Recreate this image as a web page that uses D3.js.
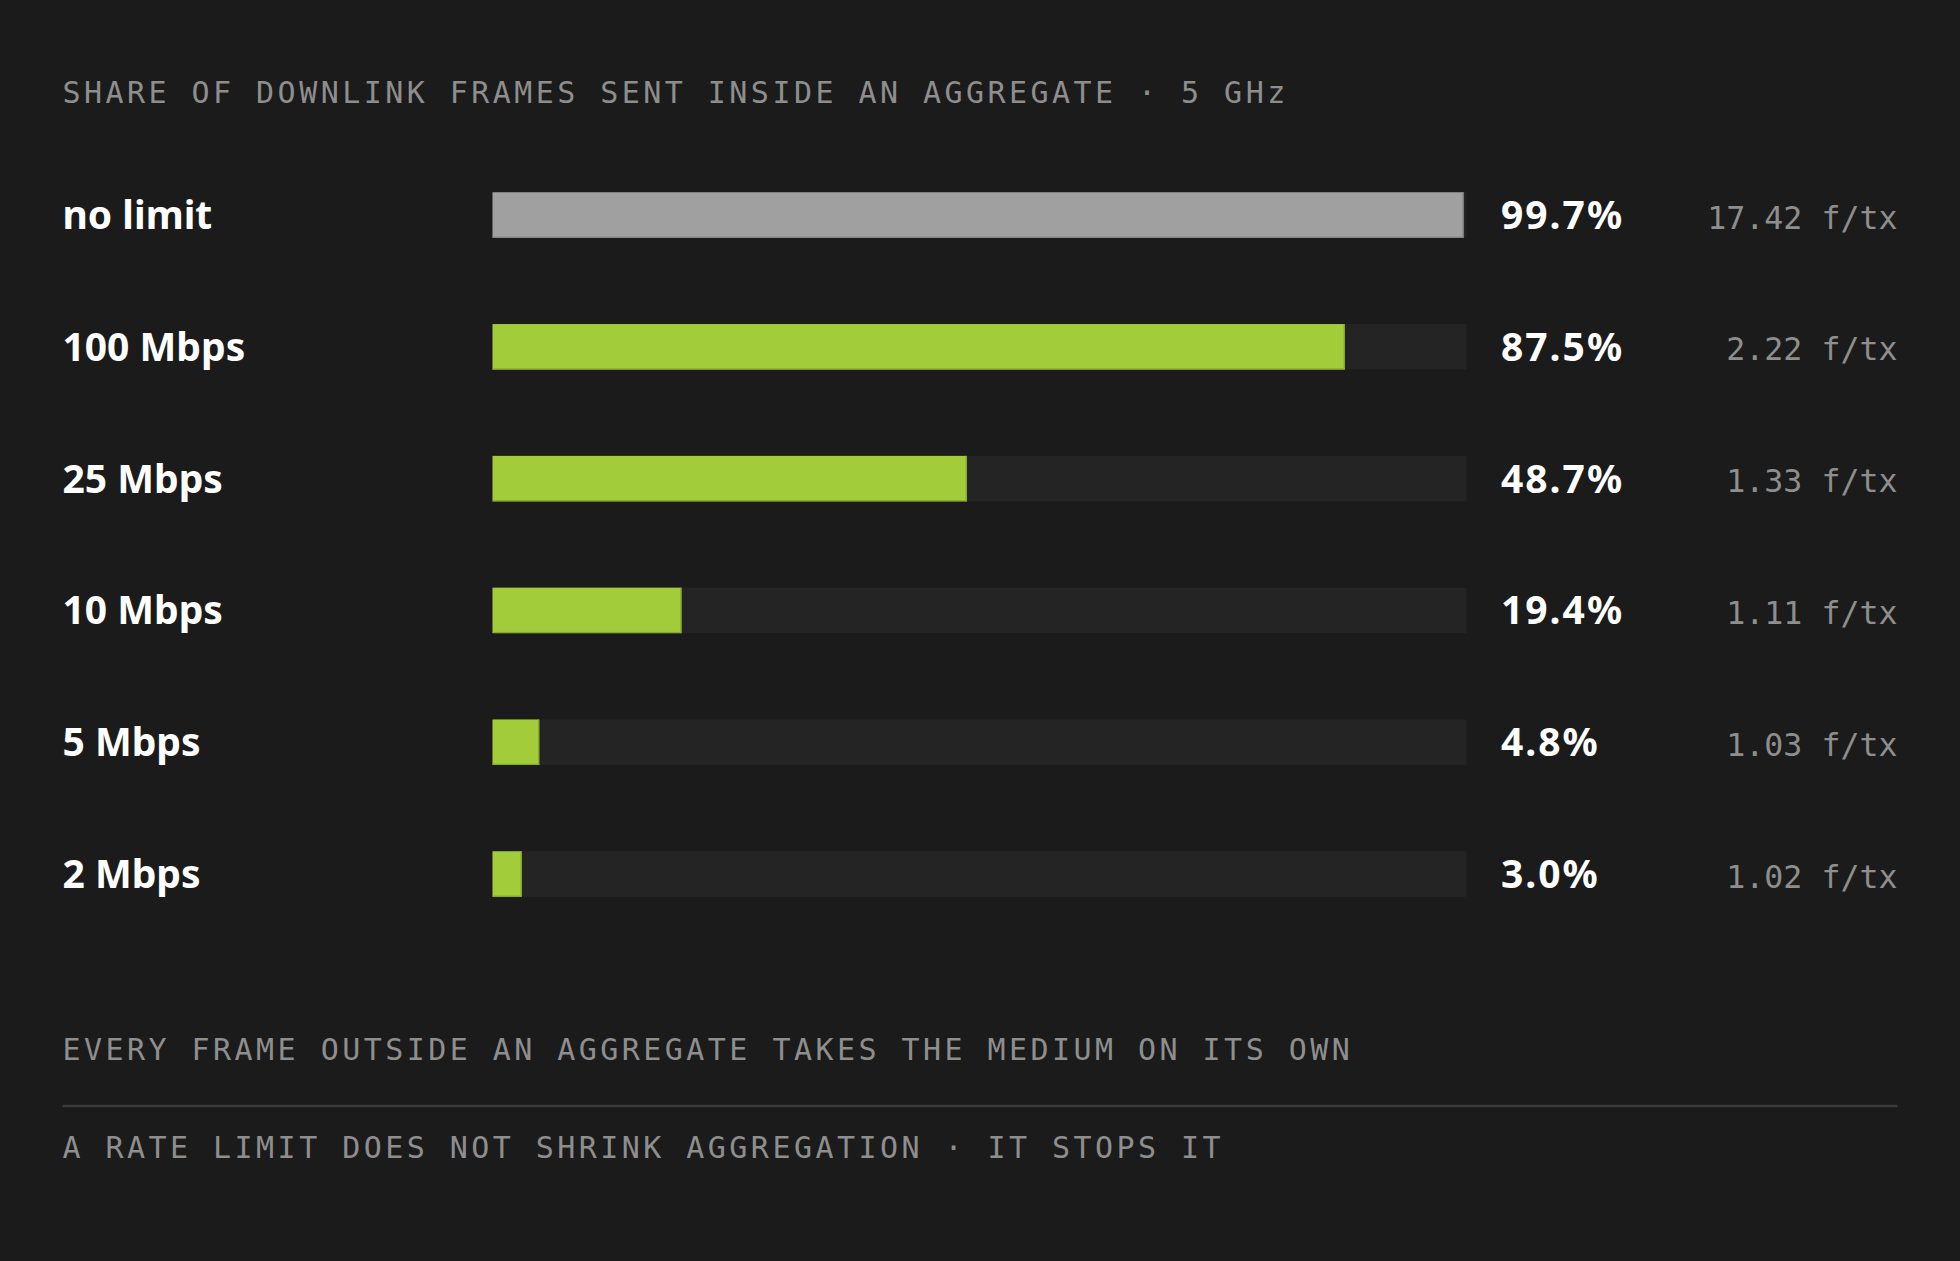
<!DOCTYPE html>
<html>
<head>
<meta charset="utf-8">
<script src="https://cdn.jsdelivr.net/npm/d3@7"></script>
<style>
  html, body { margin: 0; padding: 0; background: #1b1b1b; }
  svg { display: block; }
</style>
</head>
<body>
<svg id="chart" width="1960" height="1261"></svg>
<script>
// ---- data ----
const title = "SHARE OF DOWNLINK FRAMES SENT INSIDE AN AGGREGATE · 5 GHz";
const categories = ["no limit", "100 Mbps", "25 Mbps", "10 Mbps", "5 Mbps", "2 Mbps"];
const shares = [99.7, 87.5, 48.7, 19.4, 4.8, 3.0];
const framesPerTx = [17.42, 2.22, 1.33, 1.11, 1.03, 1.02];
const footerLines = [
  "EVERY FRAME OUTSIDE AN AGGREGATE TAKES THE MEDIUM ON ITS OWN",
  "A RATE LIMIT DOES NOT SHRINK AGGREGATION · IT STOPS IT"
];

// ---- layout ----
const W = 1960, H = 1261;
const left = 62.5, right = 1897.5;
const mono = "'DejaVu Sans Mono', 'Liberation Mono', monospace";
const sans = "'Noto Sans', 'Open Sans', sans-serif";

const svg = d3.select("#chart");
svg.append("rect").attr("width", W).attr("height", H).attr("fill", "#1b1b1b");

const rows = categories.map((c, i) => ({ cat: c, share: shares[i], fpt: framesPerTx[i], i }));

const x = d3.scaleLinear().domain([0, 100]).range([492.5, 1466.5]);
const y = d3.scalePoint().domain(categories).range([215, 874]);
const barH = 45.5;

// title
svg.append("text")
  .attr("x", left).attr("y", 103)
  .attr("fill", "#8e8e8e")
  .style("font-family", mono).style("font-size", "30px").style("letter-spacing", "3.45px")
  .text(title);

const g = svg.append("g");
const row = g.selectAll("g.row").data(rows).join("g").attr("class", "row");

// track
row.append("rect")
  .attr("x", x(0)).attr("width", x(100) - x(0))
  .attr("y", d => y(d.cat) - barH / 2).attr("height", barH)
  .attr("fill", "#242424");

// bar
row.append("rect")
  .attr("x", x(0)).attr("width", d => x(d.share) - x(0))
  .attr("y", d => y(d.cat) - barH / 2).attr("height", barH)
  .attr("fill", d => d.i === 0 ? "#a0a0a0" : "#a3cc3a");

// subtle darker edges (right & bottom)
row.append("rect")
  .attr("x", d => x(d.share) - 1.2).attr("width", 1.2)
  .attr("y", d => y(d.cat) - barH / 2).attr("height", barH)
  .attr("fill", d => d.i === 0 ? "#868686" : "#88aa30");
row.append("rect")
  .attr("x", x(0)).attr("width", d => x(d.share) - x(0))
  .attr("y", d => y(d.cat) + barH / 2 - 1.2).attr("height", 1.2)
  .attr("fill", d => d.i === 0 ? "#868686" : "#88aa30");

// category labels
row.append("text")
  .attr("x", left).attr("y", d => y(d.cat) + 14)
  .attr("fill", "#ffffff")
  .style("font-family", sans).style("font-weight", 700).style("font-size", "39px")
  .text(d => d.cat);

// value labels
row.append("text")
  .attr("x", 1501).attr("y", d => y(d.cat) + 14)
  .attr("fill", "#ffffff")
  .style("font-family", sans).style("font-weight", 700).style("font-size", "39px")
  .style("letter-spacing", "2px")
  .text(d => d3.format(".1f")(d.share) + "%");

// frames per tx
row.append("text")
  .attr("x", right).attr("y", d => y(d.cat) + 13.5)
  .attr("text-anchor", "end")
  .attr("fill", "#8e8e8e")
  .style("font-family", mono).style("font-size", "31.6px")
  .text(d => d3.format(".2f")(d.fpt) + " f/tx");

// footer
svg.append("text")
  .attr("x", left).attr("y", 1060)
  .attr("fill", "#8e8e8e")
  .style("font-family", mono).style("font-size", "30px").style("letter-spacing", "3.45px")
  .text(footerLines[0]);

svg.append("line")
  .attr("x1", left).attr("x2", right)
  .attr("y1", 1106).attr("y2", 1106)
  .attr("stroke", "#3a3a3a").attr("stroke-width", 2.5);

svg.append("text")
  .attr("x", left).attr("y", 1158)
  .attr("fill", "#8e8e8e")
  .style("font-family", mono).style("font-size", "30px").style("letter-spacing", "3.45px")
  .text(footerLines[1]);
</script>
</body>
</html>
